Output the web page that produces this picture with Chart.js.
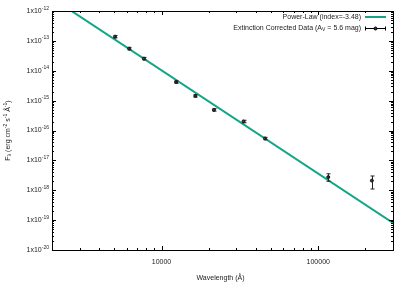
<!DOCTYPE html>
<html>
<head>
<meta charset="utf-8">
<script src="https://cdn.jsdelivr.net/npm/chart.js@4.4.1/dist/chart.umd.min.js"></script>
<style>
  html, body { margin: 0; padding: 0; background: #fff; }
  #wrap { width: 407px; height: 286px; }
</style>
</head>
<body>
<div id="wrap"><canvas id="sedChart"></canvas></div>
<script>
// photometry (Angstrom, erg cm-2 s-1 A-1)
const wavelengths = [5050, 6220, 7720, 12390, 16450, 21600, 33350, 45800, 115900, 220000];
const fluxes      = [1.38e-13, 5.5e-14, 2.54e-14, 4.2e-15, 1.44e-15, 4.9e-16, 2.0e-16, 5.4e-17, 2.75e-18, 2.1e-18];
const fluxLow     = [1.26e-13, 5.0e-14, 2.31e-14, 3.8e-15, 1.31e-15, 4.45e-16, 1.82e-16, 4.9e-17, 2.0e-18, 1.1e-18];
const fluxHigh    = [1.52e-13, 6.05e-14, 2.8e-14, 4.6e-15, 1.58e-15, 5.4e-16, 2.2e-16, 5.9e-17, 3.55e-18, 3.0e-18];

// power-law fit, read at the plot edges
const fitWavelengths = [2000, 300000];
const fitFluxes      = [2.7e-12, 8.1e-20];

const xTicks = [10000, 100000];
const xTickLabels = ['10000', '100000'];
const yTicks = [1e-20, 1e-19, 1e-18, 1e-17, 1e-16, 1e-15, 1e-14, 1e-13, 1e-12];
const yTickLabels = ['1x10^{-20}', '1x10^{-19}', '1x10^{-18}', '1x10^{-17}', '1x10^{-16}',
                     '1x10^{-15}', '1x10^{-14}', '1x10^{-13}', '1x10^{-12}'];

const fitLabel  = 'Power-Law (index=-3.48)';
const dataLabel = 'Extinction Corrected Data (A_{V} = 5.6 mag)';
const xTitle = 'Wavelength (Å)';
const yTitle = 'F_{λ} (erg cm^{-2} s^{-1} Å^{-1})';

const FONT = '"Liberation Sans", Arial, sans-serif';
const GREEN = '#14a586';
const TEXT = '#222';

// tiny rich text: _{..} subscript, ^{..} superscript
function parseRich(s) {
    const parts = [];
    const re = /([_^])\{([^}]*)\}/g;
    let last = 0, m;
    while ((m = re.exec(s)) !== null) {
        if (m.index > last) parts.push({ t: s.slice(last, m.index), k: 0 });
        parts.push({ t: m[2], k: m[1] === '^' ? -1 : 1 });
        last = re.lastIndex;
    }
    if (last < s.length) parts.push({ t: s.slice(last), k: 0 });
    return parts;
}

function richWidth(ctx, parts, size) {
    let w = 0;
    parts.forEach(p => {
        ctx.font = `${p.k ? size * 0.72 : size}px ${FONT}`;
        w += ctx.measureText(p.t).width;
    });
    return w;
}

function drawRich(ctx, s, x, y, align, size) {
    const parts = parseRich(s);
    const w = richWidth(ctx, parts, size);
    let cx = align === 'right' ? x - w : align === 'center' ? x - w / 2 : x;
    ctx.textBaseline = 'middle';
    ctx.textAlign = 'left';
    parts.forEach(p => {
        const fs = p.k ? size * 0.72 : size;
        ctx.font = `${fs}px ${FONT}`;
        const dy = p.k === -1 ? -size * 0.4 : p.k === 1 ? size * 0.3 : 0;
        ctx.fillText(p.t, cx, y + dy);
        cx += ctx.measureText(p.t).width;
    });
}

function minorValues(min, max) {
    const out = [];
    for (let e = Math.floor(Math.log10(min)); e <= Math.ceil(Math.log10(max)); e++) {
        for (let m = 1; m < 10; m++) {
            const v = m * Math.pow(10, e);
            if (v >= min * 0.999 && v <= max * 1.001) out.push({ v, major: m === 1 });
        }
    }
    return out;
}

const gnuplotFrame = {
    id: 'gnuplotFrame',
    afterDraw(chart) {
        const { ctx, chartArea: a, scales } = chart;
        const x = scales.x, y = scales.y;
        ctx.save();
        ctx.strokeStyle = '#000';
        ctx.lineWidth = 1;
        ctx.beginPath();
        minorValues(x.min, x.max).forEach(t => {
            const px = Math.round(x.getPixelForValue(t.v)) + 0.5;
            const len = t.major ? 4 : 2;
            ctx.moveTo(px, a.bottom); ctx.lineTo(px, a.bottom - len);
            ctx.moveTo(px, a.top); ctx.lineTo(px, a.top + len);
        });
        minorValues(y.min, y.max).forEach(t => {
            const py = Math.round(y.getPixelForValue(t.v)) + 0.5;
            const len = t.major ? 4 : 2;
            ctx.moveTo(a.left, py); ctx.lineTo(a.left + len, py);
            ctx.moveTo(a.right, py); ctx.lineTo(a.right - len, py);
        });
        ctx.stroke();
        ctx.strokeRect(Math.round(a.left) + 0.5, Math.round(a.top) + 0.5,
                       Math.round(a.right - a.left), Math.round(a.bottom - a.top));

        ctx.fillStyle = TEXT;
        yTicks.forEach((v, i) => drawRich(ctx, yTickLabels[i], a.left - 3, y.getPixelForValue(v), 'right', 7));
        xTicks.forEach((v, i) => drawRich(ctx, xTickLabels[i], x.getPixelForValue(v), a.bottom + 12, 'center', 7));
        drawRich(ctx, xTitle, (a.left + a.right) / 2 - 2, a.bottom + 28, 'center', 7);

        ctx.save();
        ctx.translate(8, (a.top + a.bottom) / 2);
        ctx.rotate(-Math.PI / 2);
        drawRich(ctx, yTitle, 0, 0, 'center', 7);
        ctx.restore();

        // key, gnuplot style: text right-aligned, sample after it
        const tx = 361, s0 = 365, s1 = 386;
        drawRich(ctx, fitLabel, tx, 17, 'right', 7);
        ctx.strokeStyle = GREEN; ctx.lineWidth = 2;
        ctx.beginPath(); ctx.moveTo(s0, 17); ctx.lineTo(s1, 17); ctx.stroke();

        drawRich(ctx, dataLabel, tx, 28, 'right', 7);
        ctx.strokeStyle = '#000'; ctx.lineWidth = 1;
        ctx.beginPath();
        ctx.moveTo(s0, 28.5); ctx.lineTo(s1, 28.5);
        ctx.moveTo(s0 + 0.5, 26.5); ctx.lineTo(s0 + 0.5, 30.5);
        ctx.moveTo(s1 - 0.5, 26.5); ctx.lineTo(s1 - 0.5, 30.5);
        ctx.stroke();
        ctx.fillStyle = '#333';
        ctx.beginPath(); ctx.arc((s0 + s1) / 2, 28.5, 1.5, 0, Math.PI * 2); ctx.fill(); ctx.stroke();
        ctx.restore();
    }
};

const errorBars = {
    id: 'errorBars',
    afterDatasetsDraw(chart) {
        const { ctx, scales } = chart;
        ctx.save();
        ctx.strokeStyle = '#222';
        ctx.lineWidth = 1;
        ctx.beginPath();
        wavelengths.forEach((w, i) => {
            const px = Math.round(scales.x.getPixelForValue(w)) + 0.5;
            const pl = scales.y.getPixelForValue(fluxLow[i]);
            const ph = scales.y.getPixelForValue(fluxHigh[i]);
            ctx.moveTo(px, pl); ctx.lineTo(px, ph);
            ctx.moveTo(px - 2, pl); ctx.lineTo(px + 2, pl);
            ctx.moveTo(px - 2, ph); ctx.lineTo(px + 2, ph);
        });
        ctx.stroke();
        ctx.restore();
    }
};

new Chart(document.getElementById('sedChart'), {
    type: 'scatter',
    data: {
        datasets: [
            {
                label: fitLabel,
                data: fitWavelengths.map((w, i) => ({ x: w, y: fitFluxes[i] })),
                showLine: true,
                borderColor: GREEN,
                borderWidth: 2,
                pointRadius: 0,
                order: 2
            },
            {
                label: dataLabel,
                data: wavelengths.map((w, i) => ({ x: w, y: fluxes[i] })),
                pointStyle: 'circle',
                pointRadius: 1.5,
                backgroundColor: '#444',
                borderColor: '#111',
                borderWidth: 1,
                order: 1
            }
        ]
    },
    options: {
        responsive: true,
        maintainAspectRatio: false,
        animation: false,
        layout: { padding: { top: 11, right: 14, left: 0, bottom: 0 } },
        plugins: { legend: { display: false }, tooltip: { enabled: false } },
        scales: {
            x: {
                type: 'logarithmic', min: 2000, max: 300000,
                grid: { display: false }, border: { display: false },
                ticks: { display: false },
                afterBuildTicks: s => { s.ticks = xTicks.map(v => ({ value: v })); },
                afterFit: s => { s.height = 36; }
            },
            y: {
                type: 'logarithmic', min: 1e-20, max: 1e-12,
                grid: { display: false }, border: { display: false },
                ticks: { display: false },
                afterBuildTicks: s => { s.ticks = yTicks.map(v => ({ value: v })); },
                afterFit: s => { s.width = 52; }
            }
        }
    },
    plugins: [errorBars, gnuplotFrame]
});
</script>
</body>
</html>
